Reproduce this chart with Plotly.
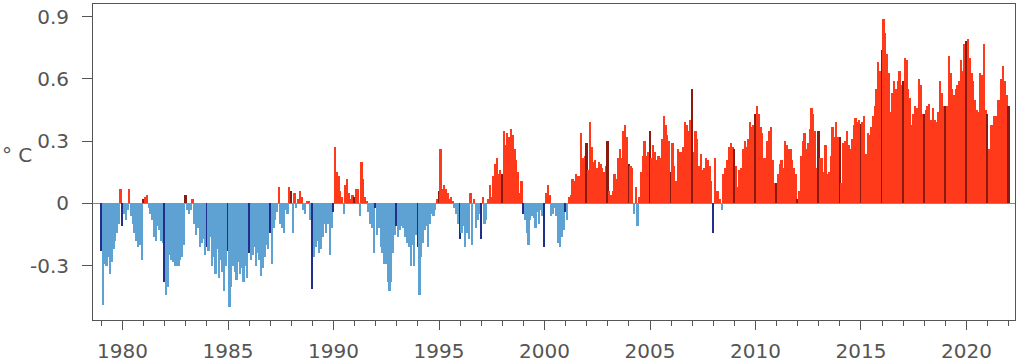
import plotly.graph_objects as go

# Monthly temperature anomalies (°C), Jan 1979 .. Jan 2022, one row per year
anom_1979_1988 = [
    [-0.23, -0.49, -0.29, -0.30, -0.26, -0.34, -0.28, -0.22, -0.18, -0.14, -0.10, 0.07],   # 1979
    [-0.11, -0.05, -0.08, -0.03, 0.07, -0.06, -0.10, -0.14, -0.18, -0.21, -0.20, -0.27],   # 1980
    [0.02, 0.03, 0.04, -0.02, -0.05, -0.08, -0.16, -0.18, -0.11, -0.13, -0.18, -0.19],     # 1981
    [-0.38, -0.44, -0.40, -0.25, -0.27, -0.28, -0.30, -0.30, -0.30, -0.27, -0.26, -0.20],  # 1982
    [0.04, -0.03, -0.05, -0.03, 0.02, -0.10, -0.15, -0.12, -0.21, -0.19, -0.17, -0.25],    # 1983
    [-0.21, -0.23, -0.16, -0.30, -0.26, -0.34, -0.22, -0.36, -0.27, -0.33, -0.42, -0.30],  # 1984
    [-0.23, -0.50, -0.40, -0.30, -0.33, -0.37, -0.28, -0.34, -0.31, -0.38, -0.30, -0.36],  # 1985
    [-0.24, -0.27, -0.25, -0.21, -0.30, -0.24, -0.27, -0.35, -0.31, -0.26, -0.20, -0.22],  # 1986
    [-0.14, -0.29, -0.12, -0.08, -0.04, 0.08, -0.10, -0.12, -0.14, -0.03, -0.05, 0.08],    # 1987
    [0.06, -0.14, 0.05, -0.02, 0.02, 0.06, 0.03, -0.03, -0.05, 0.01, 0.01, -0.08],         # 1988
]
anom_1989_1998 = [
    [-0.41, -0.26, -0.21, -0.18, -0.24, -0.22, -0.16, -0.10, -0.14, -0.10, -0.25, -0.12],  # 1989
    [-0.04, 0.27, 0.15, 0.13, 0.06, 0.03, -0.05, 0.09, 0.12, 0.05, 0.02, 0.04],            # 1990
    [0.03, 0.07, 0.07, -0.06, 0.20, 0.12, 0.03, 0.01, -0.04, -0.10, -0.12, -0.24],         # 1991
    [-0.02, -0.15, -0.12, -0.21, -0.24, -0.29, -0.29, -0.38, -0.42, -0.38, -0.24, -0.15],  # 1992
    [-0.11, -0.16, -0.13, -0.11, -0.12, -0.16, -0.19, -0.21, -0.30, -0.20, -0.30, -0.15],  # 1993
    [-0.21, -0.44, -0.26, -0.19, -0.13, -0.11, -0.21, -0.10, -0.05, -0.06, -0.03, 0.02],   # 1994
    [0.06, 0.26, 0.07, 0.09, 0.07, 0.05, 0.02, 0.03, 0.01, -0.02, -0.05, -0.10],           # 1995
    [-0.17, -0.14, -0.11, -0.21, -0.14, -0.17, 0.05, -0.20, 0.02, -0.12, -0.08, -0.05],    # 1996
    [-0.17, 0.03, -0.10, -0.08, 0.02, 0.09, 0.03, 0.13, 0.19, 0.22, 0.14, 0.16],           # 1997
    [0.14, 0.35, 0.28, 0.34, 0.32, 0.36, 0.33, 0.26, 0.21, 0.15, 0.05, 0.11],              # 1998
]
anom_1999_2008 = [
    [-0.05, -0.08, -0.14, -0.20, -0.08, -0.06, -0.07, -0.12, -0.04, -0.10, -0.03, -0.06],  # 1999
    [-0.21, 0.05, 0.09, 0.04, -0.06, -0.05, -0.02, -0.06, -0.19, -0.21, -0.16, -0.13],     # 2000
    [-0.04, -0.08, 0.03, 0.04, 0.12, 0.11, 0.14, 0.13, 0.13, 0.34, 0.22, 0.23],            # 2001
    [0.29, 0.16, 0.39, 0.27, 0.20, 0.21, 0.17, 0.20, 0.19, 0.17, 0.15, 0.18],              # 2002
    [0.30, 0.06, 0.04, 0.06, 0.14, 0.12, 0.22, 0.26, 0.22, 0.35, 0.38, 0.32],              # 2003
    [0.19, 0.18, 0.17, -0.05, 0.08, -0.11, 0.03, 0.15, 0.23, 0.30, 0.23, 0.25],            # 2004
    [0.35, 0.22, 0.28, 0.25, 0.21, 0.23, 0.22, 0.31, 0.42, 0.38, 0.33, 0.30],              # 2005
    [0.15, 0.29, 0.18, 0.11, 0.26, 0.25, 0.25, 0.27, 0.39, 0.38, 0.35, 0.40],              # 2006
    [0.55, 0.25, 0.35, 0.31, 0.18, 0.24, 0.16, 0.17, 0.22, 0.21, 0.18, 0.11],              # 2007
    [-0.14, 0.22, 0.06, 0.06, 0.02, -0.03, 0.14, 0.17, 0.21, 0.27, 0.29, 0.27],            # 2008
]
anom_2009_2022 = [
    [0.26, 0.18, 0.08, 0.16, 0.17, 0.26, 0.30, 0.27, 0.31, 0.39, 0.37, 0.38],              # 2009
    [0.43, 0.47, 0.43, 0.37, 0.34, 0.22, 0.22, 0.30, 0.35, 0.37, 0.21, 0.10],              # 2010
    [0.10, 0.14, 0.19, 0.21, 0.17, 0.30, 0.28, 0.26, 0.26, 0.21, 0.17, 0.14],              # 2011
    [0.02, 0.06, 0.23, 0.30, 0.34, 0.26, 0.29, 0.36, 0.46, 0.43, 0.35, 0.17],              # 2012
    [0.35, 0.22, 0.22, 0.15, 0.28, 0.14, 0.15, 0.23, 0.37, 0.32, 0.39, 0.32],              # 2013
    [0.32, 0.10, 0.29, 0.30, 0.35, 0.28, 0.26, 0.31, 0.38, 0.41, 0.39, 0.40],              # 2014
    [0.385, 0.39, 0.42, 0.24, 0.34, 0.33, 0.37, 0.42, 0.47, 0.55, 0.68, 0.64],             # 2015
    [0.74, 0.89, 0.82, 0.72, 0.63, 0.44, 0.53, 0.59, 0.55, 0.59, 0.64, 0.57],              # 2016
    [0.59, 0.70, 0.69, 0.55, 0.51, 0.38, 0.43, 0.47, 0.46, 0.60, 0.57, 0.43],              # 2017
    [0.43, 0.45, 0.47, 0.48, 0.40, 0.46, 0.40, 0.39, 0.44, 0.59, 0.53, 0.47],              # 2018
    [0.47, 0.47, 0.71, 0.63, 0.55, 0.52, 0.55, 0.57, 0.59, 0.69, 0.64, 0.77],              # 2019
    [0.78, 0.79, 0.70, 0.63, 0.59, 0.50, 0.45, 0.44, 0.63, 0.62, 0.77, 0.45],              # 2020
    [0.43, 0.26, 0.38, 0.38, 0.42, 0.42, 0.50, 0.50, 0.60, 0.66, 0.59, 0.52],              # 2021
    [0.47],                                                                                # 2022
]
first_year = 1979
year_ticks = [1980, 1985, 1990, 1995, 2000, 2005, 2010, 2015, 2020]
y_ticks = [-0.3, 0, 0.3, 0.6, 0.9]
y_tick_text = ["-0.3", "0", "0.3", "0.6", "0.9"]

rows = anom_1979_1988 + anom_1989_1998 + anom_1999_2008 + anom_2009_2022
xs, ys, cols = [], [], []
for i, row in enumerate(rows):
    for m, v in enumerate(row):
        xs.append(first_year + i + m / 12.0)
        ys.append(v)
        if v >= 0:
            cols.append("#8b1a10" if m == 0 else "#ff3a1a")
        else:
            cols.append("#1f2f8c" if m == 0 else "#5da2d2")

fig = go.Figure(go.Bar(x=xs, y=ys, width=1 / 12.0, marker=dict(color=cols, line=dict(width=0)),
                       hoverinfo="skip"))

axis_col = "#555555"
font = dict(family="DejaVu Sans", size=20, color="#555555")
fig.update_layout(
    width=1024, height=363,
    margin=dict(l=93, r=9, t=4, b=43, pad=0),
    plot_bgcolor="white", paper_bgcolor="white",
    bargap=0, showlegend=False, font=font,
    xaxis=dict(range=[1978.6, 2022.3], tickmode="array", tickvals=year_ticks,
               ticks="outside", ticklen=9, tickwidth=1, tickcolor=axis_col,
               showline=True, linecolor=axis_col, linewidth=1, mirror=True,
               showgrid=False, zeroline=False, tickfont=font, ticklabelstandoff=4,
               automargin=False,
               minor=dict(tickmode="linear", tick0=1979, dtick=1, ticks="outside",
                          ticklen=5, tickcolor=axis_col, showgrid=False)),
    yaxis=dict(range=[-0.561, 0.9605], tickmode="array", tickvals=y_ticks, ticktext=y_tick_text,
               ticks="outside", ticklen=10, tickwidth=1, tickcolor=axis_col,
               showline=True, linecolor=axis_col, linewidth=1, mirror=True,
               showgrid=False, zeroline=True, zerolinecolor="#888888", zerolinewidth=1,
               tickfont=font, ticklabelstandoff=9, automargin=False),
    annotations=[dict(text="° C", xref="paper", yref="paper", x=-0.0824, y=0.522,
                      xanchor="center", yanchor="middle", showarrow=False, font=font)],
)
fig.write_html("out.html", config={"displayModeBar": False},
               post_script="document.body.style.margin='0';document.body.style.overflow='hidden';")
